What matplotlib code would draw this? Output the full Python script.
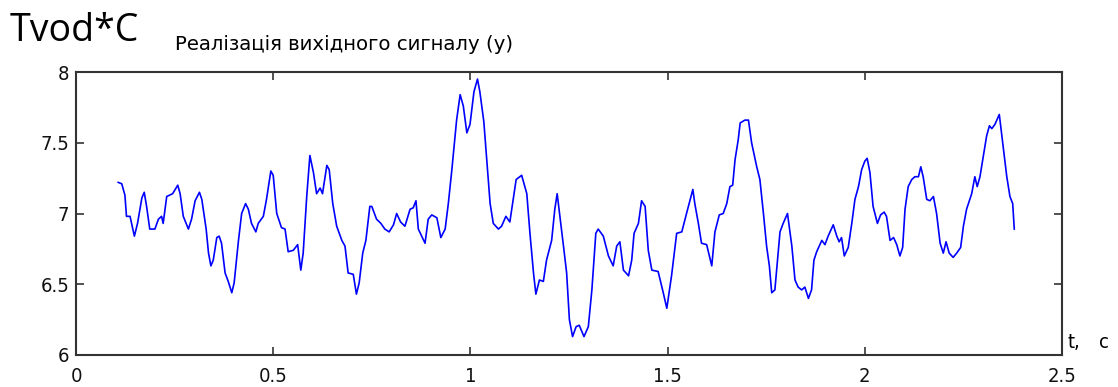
import matplotlib
matplotlib.use("Agg")
import matplotlib.pyplot as plt

t = [0.107, 0.116, 0.124, 0.128, 0.137, 0.148, 0.156, 0.167, 0.173, 0.179, 0.187, 0.200, 0.209, 0.217, 0.221,
     0.230, 0.245, 0.258, 0.264, 0.272, 0.285, 0.293, 0.302, 0.313, 0.319, 0.330, 0.336, 0.342, 0.348, 0.357,
     0.363, 0.369, 0.378, 0.386, 0.395, 0.401, 0.412, 0.420, 0.430, 0.437, 0.445, 0.456, 0.462, 0.475, 0.483,
     0.494, 0.500, 0.509, 0.521, 0.530, 0.538, 0.551, 0.562, 0.570, 0.576, 0.585, 0.593, 0.602, 0.610, 0.619,
     0.625, 0.636, 0.642, 0.651, 0.661, 0.674, 0.682, 0.690, 0.703, 0.711, 0.718, 0.727, 0.735, 0.745, 0.750,
     0.762, 0.773, 0.783, 0.794, 0.805, 0.813, 0.823, 0.834, 0.847, 0.855, 0.862, 0.868, 0.885, 0.893, 0.902,
     0.915, 0.925, 0.936, 0.944, 0.953, 0.965, 0.974, 0.982, 0.991, 0.999, 1.009, 1.018, 1.024, 1.034, 1.041,
     1.050, 1.058, 1.071, 1.079, 1.090, 1.100, 1.107, 1.116, 1.130, 1.143, 1.151, 1.160, 1.166, 1.175, 1.185,
     1.193, 1.206, 1.214, 1.220, 1.227, 1.236, 1.244, 1.251, 1.259, 1.268, 1.276, 1.288, 1.299, 1.308, 1.318,
     1.324, 1.337, 1.350, 1.362, 1.371, 1.379, 1.388, 1.401, 1.409, 1.415, 1.426, 1.434, 1.443, 1.451, 1.460,
     1.476, 1.489, 1.498, 1.510, 1.523, 1.536, 1.548, 1.564, 1.569, 1.578, 1.586, 1.599, 1.612, 1.620, 1.631,
     1.641, 1.650, 1.658, 1.665, 1.671, 1.679, 1.684, 1.696, 1.705, 1.713, 1.726, 1.734, 1.743, 1.751, 1.758,
     1.764, 1.772, 1.778, 1.785, 1.793, 1.804, 1.815, 1.823, 1.831, 1.840, 1.848, 1.857, 1.865, 1.871, 1.878,
     1.891, 1.899, 1.907, 1.920, 1.929, 1.935, 1.941, 1.948, 1.958, 1.967, 1.975, 1.984, 1.992, 2.000, 2.006,
     2.013, 2.021, 2.032, 2.040, 2.049, 2.055, 2.064, 2.073, 2.081, 2.089, 2.096, 2.102, 2.110, 2.119, 2.127,
     2.136, 2.142, 2.148, 2.157, 2.165, 2.174, 2.182, 2.191, 2.199, 2.206, 2.214, 2.224, 2.233, 2.243, 2.250,
     2.258, 2.271, 2.279, 2.285, 2.292, 2.299, 2.309, 2.316, 2.322, 2.330, 2.341, 2.351, 2.360, 2.368, 2.375,
     2.379]

y = [7.22, 7.21, 7.13, 6.98, 6.98, 6.84, 6.93, 7.11, 7.15, 7.05, 6.89, 6.89, 6.96, 6.98, 6.93,
     7.12, 7.14, 7.20, 7.14, 6.98, 6.89, 6.96, 7.09, 7.15, 7.10, 6.89, 6.72, 6.63, 6.67, 6.83,
     6.84, 6.79, 6.58, 6.52, 6.44, 6.51, 6.81, 7.00, 7.07, 7.03, 6.93, 6.87, 6.93, 6.98, 7.10,
     7.30, 7.27, 7.00, 6.90, 6.89, 6.73, 6.74, 6.78, 6.60, 6.72, 7.12, 7.41, 7.29, 7.14, 7.18,
     7.14, 7.34, 7.31, 7.07, 6.91, 6.81, 6.77, 6.58, 6.57, 6.43, 6.51, 6.72, 6.81, 7.05, 7.05,
     6.96, 6.93, 6.89, 6.87, 6.92, 7.00, 6.94, 6.91, 7.03, 7.04, 7.09, 6.89, 6.79, 6.96, 6.99,
     6.97, 6.83, 6.89, 7.07, 7.31, 7.66, 7.84, 7.76, 7.57, 7.63, 7.86, 7.95, 7.86, 7.65, 7.40,
     7.07, 6.93, 6.89, 6.91, 6.98, 6.94, 7.07, 7.24, 7.27, 7.14, 6.86, 6.58, 6.43, 6.53, 6.52,
     6.67, 6.81, 7.03, 7.14, 6.98, 6.77, 6.58, 6.25, 6.13, 6.20, 6.21, 6.13, 6.20, 6.46, 6.86,
     6.89, 6.84, 6.70, 6.63, 6.77, 6.80, 6.60, 6.56, 6.67, 6.86, 6.93, 7.09, 7.05, 6.74, 6.60,
     6.59, 6.44, 6.33, 6.56, 6.86, 6.87, 7.00, 7.17, 7.07, 6.93, 6.79, 6.78, 6.63, 6.87, 6.99,
     7.00, 7.07, 7.19, 7.20, 7.38, 7.52, 7.64, 7.66, 7.66, 7.50, 7.33, 7.24, 7.00, 6.77, 6.63,
     6.44, 6.46, 6.65, 6.87, 6.93, 7.00, 6.77, 6.53, 6.48, 6.46, 6.48, 6.40, 6.46, 6.67, 6.73,
     6.81, 6.78, 6.84, 6.92, 6.84, 6.80, 6.83, 6.70, 6.76, 6.93, 7.10, 7.19, 7.31, 7.37, 7.39,
     7.29, 7.05, 6.93, 6.99, 7.01, 6.98, 6.81, 6.83, 6.78, 6.70, 6.76, 7.03, 7.19, 7.24, 7.26,
     7.26, 7.33, 7.26, 7.10, 7.09, 7.12, 7.00, 6.79, 6.72, 6.80, 6.72, 6.69, 6.72, 6.76, 6.91,
     7.03, 7.14, 7.26, 7.19, 7.26, 7.38, 7.55, 7.62, 7.60, 7.63, 7.70, 7.47, 7.26, 7.12, 7.07,
     6.89]

xticks = [0, 0.5, 1, 1.5, 2, 2.5]
xtick_labels = ["0", "0.5", "1", "1.5", "2", "2.5"]
yticks = [6, 6.5, 7, 7.5, 8]
ytick_labels = ["6", "6.5", "7", "7.5", "8"]

tick_kw = dict(family="DejaVu Sans", stretch="condensed", size=14.5)

fig = plt.figure(figsize=(11.18, 3.87), dpi=100)
ax = fig.add_axes([76 / 1118, 1 - 355 / 387, (1062 - 76) / 1118, (355 - 72) / 387])
ax.plot(t, y, color="#0000ff", linewidth=1.2)
ax.set_xlim(0, 2.5)
ax.set_ylim(6, 8)
ax.set_xticks(xticks)
ax.set_xticklabels(xtick_labels, **tick_kw)
ax.set_yticks(yticks)
ax.set_yticklabels(ytick_labels, **tick_kw)
ax.tick_params(direction="in", length=6, width=1.2, top=True, right=True,
               colors="#333333", labelcolor="#111111")
ax.tick_params(axis="x", pad=9)
ax.tick_params(axis="y", pad=5)
for s in ax.spines.values():
    s.set_linewidth(1.5)
    s.set_color("#333333")

fig.text(10 / 1118, 1 - 31 / 387, "Tvod*C", fontsize=27, family="Open Sans", va="center", ha="left")
fig.text(175 / 1118, 1 - 44 / 387, "Реалізація вихідного сигналу (у)", fontsize=14.2,
         family="DejaVu Sans", va="center", ha="left")
fig.text(1068 / 1118, 1 - 343 / 387, "t,", va="center", ha="left", **tick_kw)
fig.text(1099 / 1118, 1 - 343 / 387, "c", va="center", ha="left", **tick_kw)

fig.savefig("out.png", dpi=100)
